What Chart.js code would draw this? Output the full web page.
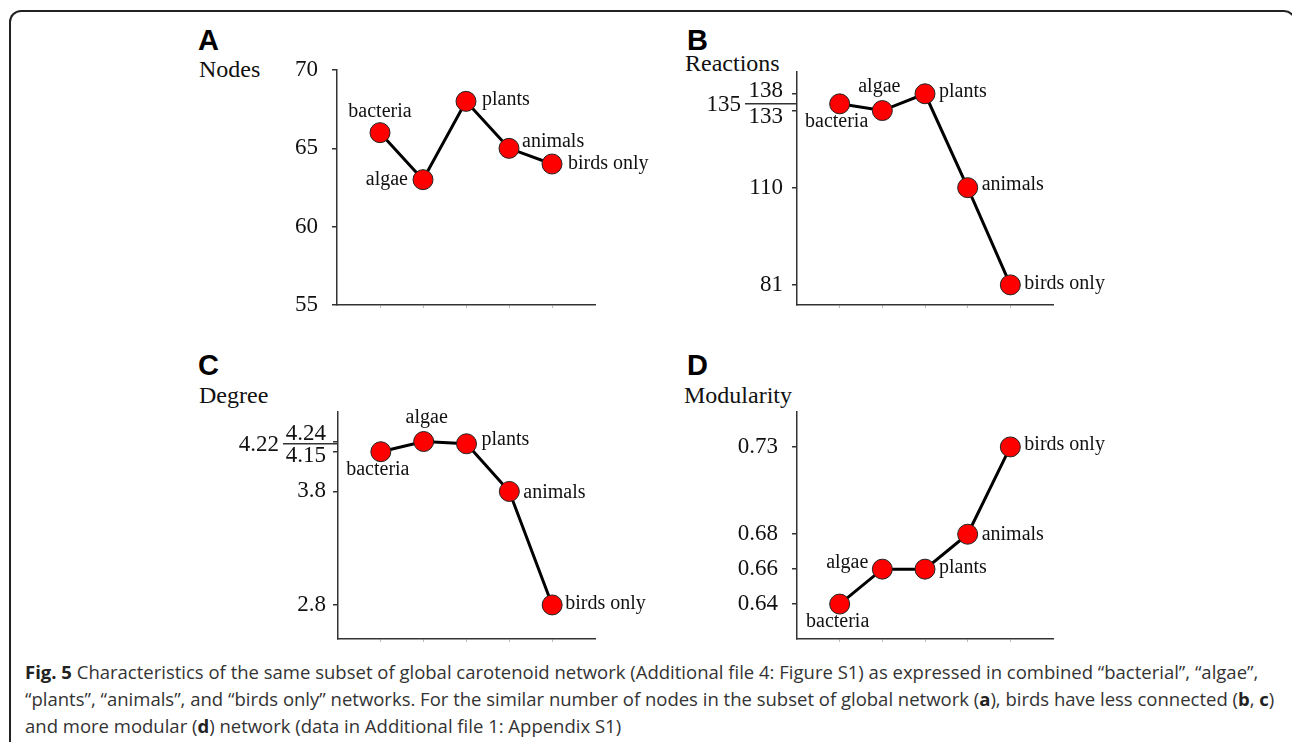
<!DOCTYPE html>
<html>
<head>
<meta charset="utf-8">
<script src="https://cdn.jsdelivr.net/npm/chart.js@4.4.0/dist/chart.umd.min.js"></script>
<style>
  body { margin: 0; background: #fff; width: 1292px; height: 742px; overflow: hidden; position: relative; }
  .frame { position: absolute; left: 9px; top: 10px; width: 1287px; height: 800px;
           border-left: 2px solid #222; border-top: 2px solid #222; border-right: 2px solid #222;
           border-radius: 12px 12px 0 0; box-sizing: border-box; }
  canvas { position: absolute; }
  .letter { position: absolute; font: bold 29px "Liberation Sans", Arial, sans-serif; line-height: 1; color: #000; }
  .ytitle { position: absolute; font: 24px "Liberation Serif", "Times New Roman", serif; line-height: 1; color: #111; }
  .caption { position: absolute; left: 25px; top: 658px; font: 18.5px "Open Sans", sans-serif; line-height: 27px;
             color: #333; white-space: nowrap; }
  .caption b { color: #222; }
</style>
</head>
<body>
<div class="frame"></div>

<div class="letter" style="left:198px;top:26px">A</div>
<div class="ytitle" style="left:199px;top:57px">Nodes</div>
<div class="letter" style="left:687px;top:26px">B</div>
<div class="ytitle" style="left:685px;top:51px">Reactions</div>
<div class="letter" style="left:198px;top:351px">C</div>
<div class="ytitle" style="left:199px;top:383px">Degree</div>
<div class="letter" style="left:687px;top:351px">D</div>
<div class="ytitle" style="left:684px;top:383px">Modularity</div>

<canvas id="chartA" width="480" height="310" style="left:180px;top:20px"></canvas>
<canvas id="chartB" width="480" height="310" style="left:670px;top:20px"></canvas>
<canvas id="chartC" width="480" height="310" style="left:180px;top:340px"></canvas>
<canvas id="chartD" width="480" height="310" style="left:670px;top:340px"></canvas>

<div class="caption">
  <b>Fig. 5</b> Characteristics of the same subset of global carotenoid network (Additional file 4: Figure S1) as expressed in combined “bacterial”, “algae”,<br>
  “plants”, “animals”, and “birds only” networks. For the similar number of nodes in the subset of global network (<b>a</b>), birds have less connected (<b>b</b>, <b>c</b>)<br>
  and more modular (<b>d</b>) network (data in Additional file 1: Appendix S1)
</div>

<script>
const categories = ["bacteria", "algae", "plants", "animals", "birds only"];

const nodes = [66, 63, 68, 65, 64];
const reactions = [135, 133, 138, 110, 81];
const degree = [4.15, 4.24, 4.22, 3.8, 2.8];
const modularity = [0.64, 0.66, 0.66, 0.68, 0.73];

const nodesTicks = [55, 60, 65, 70];
const reactionsTicks = [81, 110, 133, 138];
const degreeTicks = [2.8, 3.8, 4.15, 4.24];
const modularityTicks = [0.64, 0.66, 0.68, 0.73];

// extra values marked left of the axis with a line
const reactionsMarked = 135;
const degreeMarked = 4.22;

// draws the point names, tick labels and the marked value
const labelPlugin = {
    id: "panelLabels",
    afterDatasetsDraw(chart, args, opts) {
        const ctx = chart.ctx;
        const meta = chart.getDatasetMeta(0);
        const yScale = chart.scales.y;
        ctx.save();
        ctx.fillStyle = "#111";
        ctx.textBaseline = "middle";

        ctx.font = '20px "Liberation Serif", "Times New Roman", serif';
        meta.data.forEach((pt, i) => {
            const p = opts.place[i];
            ctx.textAlign = p[0];
            ctx.fillText(categories[i], pt.x + p[1], pt.y + p[2]);
        });

        ctx.font = '23px "Liberation Serif", "Times New Roman", serif';
        ctx.textAlign = "right";
        opts.ticks.forEach((v, i) => {
            const nudge = opts.nudge ? opts.nudge[i] : 0;
            ctx.fillText(String(v), yScale.right - opts.gap, yScale.getPixelForValue(v) + nudge);
        });

        if (opts.marked !== undefined) {
            const py = yScale.getPixelForValue(opts.marked);
            ctx.strokeStyle = "#333";
            ctx.lineWidth = 1.5;
            ctx.beginPath();
            ctx.moveTo(opts.markFrom, py);
            ctx.lineTo(yScale.right, py);
            ctx.stroke();
            ctx.fillText(String(opts.marked), opts.markFrom - 4, py + 1);
        }
        ctx.restore();
    }
};

function makePanel(id, values, ticks, min, max, area, labelOpts) {
    const canvas = document.getElementById(id);
    const W = canvas.width, H = canvas.height;
    return new Chart(canvas.getContext("2d"), {
        type: "line",
        data: {
            datasets: [{
                data: values.map((v, i) => ({ x: i + 1, y: v })),
                borderColor: "#000",
                borderWidth: 3,
                pointRadius: 10,
                pointBackgroundColor: "#f00",
                pointBorderColor: "#222",
                pointBorderWidth: 1,
                tension: 0
            }]
        },
        options: {
            responsive: false,
            animation: false,
            layout: {
                padding: { left: 0, top: area.top, right: W - area.right, bottom: H - area.bottom - 4 }
            },
            scales: {
                x: {
                    type: "linear",
                    min: 0,
                    max: 6,
                    afterFit(axis) { axis.height = 4; },
                    afterBuildTicks(axis) { axis.ticks = categories.map((c, i) => ({ value: i + 1 })); },
                    ticks: { display: false },
                    grid: { drawOnChartArea: false, tickLength: 3, color: "#bbb" },
                    border: { color: "#333", width: 1.5 }
                },
                y: {
                    min: min,
                    max: max,
                    afterFit(axis) { axis.width = area.left; },
                    afterBuildTicks(axis) { axis.ticks = ticks.map(v => ({ value: v })); },
                    ticks: { display: false },
                    grid: { drawOnChartArea: false, tickLength: 5, color: "#333", lineWidth: 1.5 },
                    border: { color: "#333", width: 1.5 }
                }
            },
            plugins: {
                legend: { display: false },
                tooltip: { enabled: false },
                panelLabels: Object.assign({ ticks: ticks }, labelOpts)
            }
        },
        plugins: [labelPlugin]
    });
}

makePanel("chartA", nodes, nodesTicks, 55, 70,
    { left: 157, top: 50, right: 415, bottom: 285 },
    { gap: 19, place: [["center", 0, -21], ["right", -15, 0], ["left", 16, -2], ["left", 13, -7], ["left", 16, 0]] });

makePanel("chartB", reactions, reactionsTicks, 75, 144.5,
    { left: 127, top: 52, right: 383, bottom: 285 },
    { gap: 14, nudge: [0, 0, 6, -3], marked: reactionsMarked, markFrom: 75,
      place: [["center", -3, 18], ["center", -3, -24], ["left", 14, -2], ["left", 14, -3], ["left", 14, -1]] });

makePanel("chartC", degree, degreeTicks, 2.5, 4.5,
    { left: 158, top: 72, right: 415, bottom: 305 },
    { gap: 12, nudge: [0, 0, 4, -8], marked: degreeMarked, markFrom: 103,
      place: [["center", -3, 18], ["center", 3, -24], ["left", 15, -4], ["left", 14, 1], ["left", 13, -1]] });

makePanel("chartD", modularity, modularityTicks, 0.62, 0.75,
    { left: 127, top: 72, right: 383, bottom: 305 },
    { gap: 19, place: [["center", -2, 18], ["right", -14, -6], ["left", 14, -1], ["left", 14, 1], ["left", 14, -2]] });
</script>
</body>
</html>
